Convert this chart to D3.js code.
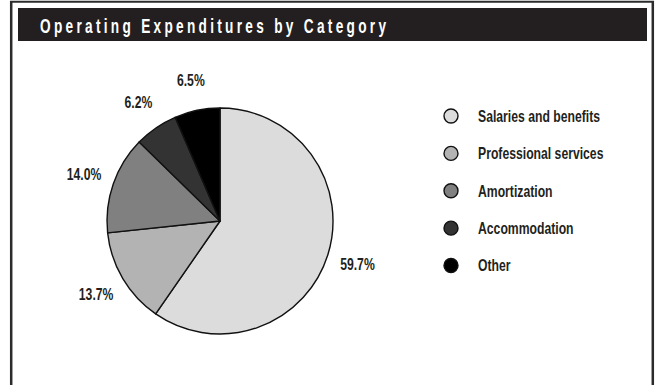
<!DOCTYPE html>
<html>
<head>
<meta charset="utf-8">
<script src="https://cdnjs.cloudflare.com/ajax/libs/d3/7.8.5/d3.min.js"></script>
<style>
  html, body { margin: 0; padding: 0; background: #fff; }
  svg { display: block; }
  .cond { font-family: "Liberation Sans", Arial, sans-serif; font-weight: bold; }
</style>
</head>
<body>
<svg id="chart" width="658" height="385"></svg>
<script>
// Operating expenditures, share of total by category (%)
const categories = ["Salaries and benefits", "Professional services", "Amortization", "Accommodation", "Other"];
const shares = [59.7, 13.7, 14.0, 6.2, 6.5];
const shareLabels = ["59.7%", "13.7%", "14.0%", "6.2%", "6.5%"];
const fills = ["#dcdcdc", "#b3b3b3", "#808080", "#333333", "#000000"];
const title = "Operating Expenditures by Category";

const W = 658, H = 385;
const K = 0.74; // horizontal squeeze giving a condensed face
const svg = d3.select("#chart");

// frame: top rule and side rules
svg.append("line").attr("x1", 10).attr("x2", 654).attr("y1", 1.8).attr("y2", 1.8)
  .attr("stroke", "#2b2b2b").attr("stroke-width", 2);
svg.append("line").attr("x1", 11.2).attr("x2", 11.2).attr("y1", 1).attr("y2", H)
  .attr("stroke", "#2b2b2b").attr("stroke-width", 2.5);
svg.append("line").attr("x1", 652.8).attr("x2", 652.8).attr("y1", 1).attr("y2", H)
  .attr("stroke", "#2b2b2b").attr("stroke-width", 2.5);

// title band
const TK = 0.7;
svg.append("rect").attr("x", 18).attr("y", 8).attr("width", 629).attr("height", 33)
  .attr("fill", "#231f20");
svg.append("text").attr("class", "cond")
  .attr("transform", `translate(40,33) scale(${TK},1)`)
  .attr("fill", "#fff").attr("font-size", 19.5)
  .attr("textLength", 346 / TK).attr("lengthAdjust", "spacing")
  .text(title);

// pie
const cx = 220, cy = 221, R = 113;
const pie = d3.pie().sort(null).value(d => d.value);
const rows = categories.map((c, i) => ({ name: c, value: shares[i], label: shareLabels[i], fill: fills[i] }));
const arcs = pie(rows);
const arc = d3.arc().innerRadius(0).outerRadius(R);
const labelArc = d3.arc().innerRadius(144).outerRadius(144);

const g = svg.append("g").attr("transform", `translate(${cx},${cy})`);
g.selectAll("path").data(arcs).join("path")
  .attr("d", arc)
  .attr("fill", d => d.data.fill)
  .attr("stroke", "#111").attr("stroke-width", 1.4)
  .attr("stroke-linejoin", "round");

g.selectAll("text.val").data(arcs).join("text")
  .attr("class", "val cond")
  .attr("transform", d => `translate(${labelArc.centroid(d)}) scale(${K},1)`)
  .attr("text-anchor", "middle").attr("dy", "0.36em")
  .attr("font-size", 16.5).attr("fill", "#231f20")
  .text(d => d.data.label);

// legend
const leg = svg.append("g").attr("transform", "translate(451,116)");
const ly = d3.scalePoint().domain(categories).range([0, 149.5]);
const item = leg.selectAll("g").data(rows).join("g")
  .attr("transform", d => `translate(0,${ly(d.name)})`);
item.append("circle").attr("r", 7).attr("fill", d => d.fill)
  .attr("stroke", "#111").attr("stroke-width", 1.4);
item.append("text").attr("class", "cond")
  .attr("transform", `translate(27,0) scale(${K},1)`)
  .attr("dy", "0.36em")
  .attr("font-size", 16.5).attr("fill", "#231f20")
  .text(d => d.name);
</script>
</body>
</html>
